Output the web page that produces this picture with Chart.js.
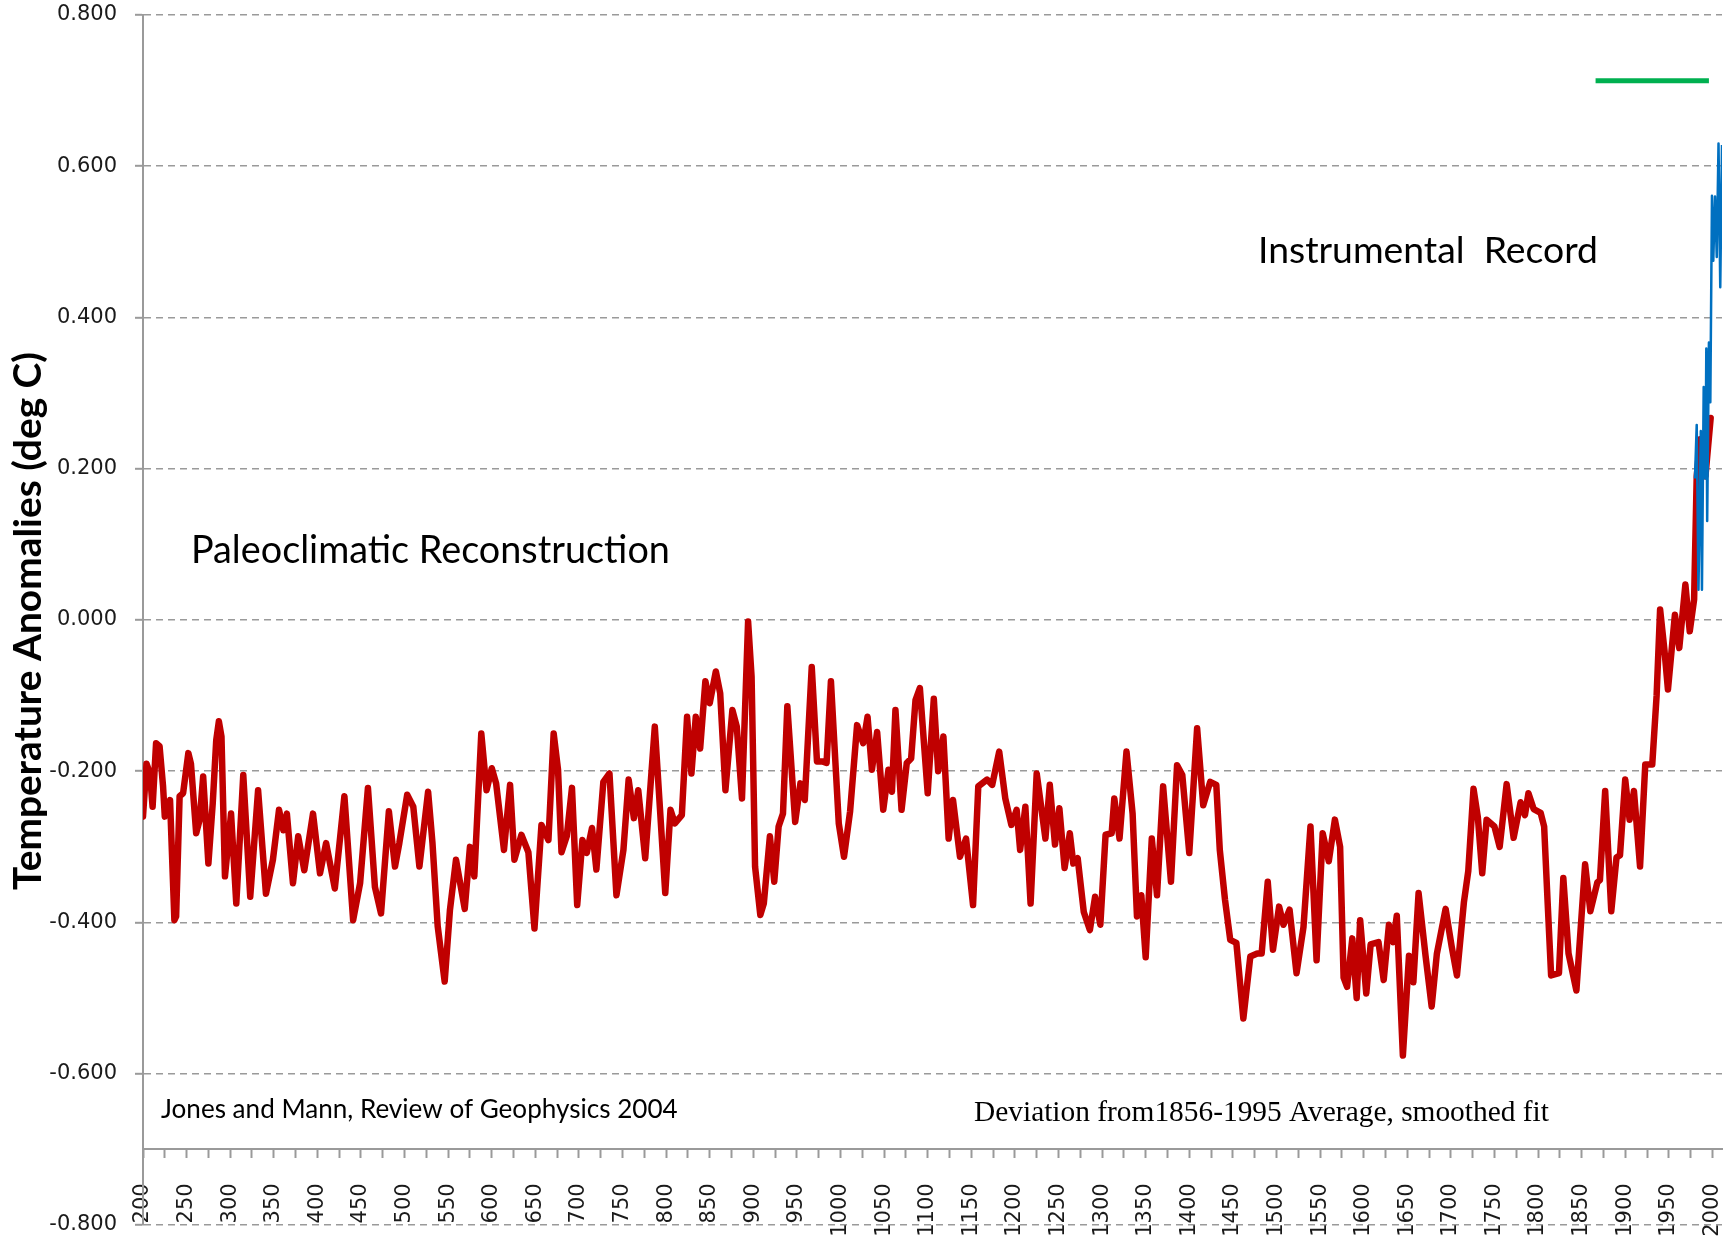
<!DOCTYPE html>
<html>
<head>
<meta charset="utf-8">
<script src="https://cdn.jsdelivr.net/npm/chart.js@4.4.1/dist/chart.umd.min.js"></script>
<style>
  html, body { margin: 0; padding: 0; background: #ffffff; }
  #wrap { width: 1734px; height: 1237px; }
</style>
</head>
<body>
<div id="wrap"><canvas id="c" width="1734" height="1237"></canvas></div>
<script>
// ---------------- DATA ----------------
const redYears = [200,204,208,211,215,219,223,225,231,236,238,242,246,252,255,261,265,269,275,280,284,287,290,294,301,307,315,323,332,341,349,356,361,365,372,378,385,395,403,410,420,431,441,449,458,466,473,482,489,494,503,510,517,527,532,538,546,552,559,569,575,580,588,594,600,605,614,621,626,634,642,649,657,665,671,676,680,686,692,698,704,709,715,720,728,735,743,751,757,763,768,776,787,799,805,810,818,824,829,834,839,845,850,857,862,868,876,881,887,894,898,902,908,912,919,924,929,934,939,948,954,959,967,973,979,984,989,998,1004,1011,1019,1026,1031,1036,1042,1049,1055,1059,1063,1070,1076,1081,1086,1091,1100,1107,1112,1118,1124,1129,1137,1144,1152,1158,1168,1174,1182,1189,1196,1202,1206,1212,1218,1225,1235,1240,1246,1251,1257,1263,1267,1272,1279,1286,1292,1298,1304,1311,1314,1320,1328,1335,1340,1345,1350,1357,1363,1370,1379,1386,1392,1400,1409,1416,1424,1431,1435,1441,1447,1454,1462,1470,1478,1483,1490,1496,1503,1508,1515,1523,1531,1539,1546,1553,1560,1567,1573,1577,1581,1587,1592,1596,1603,1608,1617,1623,1629,1634,1638,1645,1652,1657,1663,1671,1678,1684,1694,1701,1707,1715,1720,1726,1731,1736,1741,1750,1756,1764,1772,1780,1785,1789,1795,1803,1807,1811,1815,1824,1829,1835,1844,1854,1860,1868,1871,1877,1884,1890,1894,1900,1905,1910,1917,1923,1931,1936,1940,1945,1949,1957,1962,1969,1974,1979,1982,1986,1992,1998];
const redValues = [-0.26,-0.19,-0.203,-0.247,-0.163,-0.167,-0.22,-0.26,-0.238,-0.397,-0.392,-0.233,-0.229,-0.176,-0.19,-0.282,-0.264,-0.207,-0.322,-0.242,-0.159,-0.134,-0.154,-0.339,-0.256,-0.375,-0.205,-0.366,-0.225,-0.362,-0.317,-0.251,-0.278,-0.256,-0.348,-0.286,-0.331,-0.256,-0.335,-0.295,-0.355,-0.233,-0.397,-0.348,-0.222,-0.353,-0.388,-0.253,-0.326,-0.295,-0.231,-0.247,-0.326,-0.227,-0.295,-0.405,-0.478,-0.384,-0.317,-0.382,-0.3,-0.339,-0.15,-0.225,-0.196,-0.216,-0.304,-0.218,-0.317,-0.284,-0.307,-0.408,-0.271,-0.291,-0.15,-0.198,-0.307,-0.286,-0.222,-0.377,-0.291,-0.308,-0.275,-0.33,-0.214,-0.203,-0.364,-0.304,-0.211,-0.262,-0.225,-0.315,-0.141,-0.361,-0.251,-0.269,-0.258,-0.128,-0.203,-0.128,-0.17,-0.081,-0.11,-0.068,-0.097,-0.225,-0.119,-0.141,-0.236,-0.002,-0.075,-0.326,-0.39,-0.375,-0.286,-0.346,-0.273,-0.256,-0.114,-0.267,-0.216,-0.238,-0.062,-0.187,-0.187,-0.189,-0.081,-0.269,-0.313,-0.253,-0.139,-0.163,-0.128,-0.198,-0.148,-0.251,-0.198,-0.227,-0.119,-0.251,-0.189,-0.183,-0.106,-0.09,-0.229,-0.104,-0.2,-0.154,-0.289,-0.238,-0.313,-0.289,-0.377,-0.22,-0.211,-0.218,-0.174,-0.236,-0.271,-0.251,-0.304,-0.247,-0.375,-0.203,-0.289,-0.218,-0.297,-0.249,-0.328,-0.282,-0.322,-0.315,-0.386,-0.41,-0.366,-0.403,-0.284,-0.282,-0.236,-0.289,-0.174,-0.256,-0.392,-0.364,-0.446,-0.289,-0.364,-0.22,-0.346,-0.192,-0.205,-0.308,-0.143,-0.245,-0.214,-0.218,-0.304,-0.37,-0.423,-0.427,-0.527,-0.445,-0.441,-0.441,-0.346,-0.436,-0.379,-0.403,-0.383,-0.467,-0.406,-0.273,-0.45,-0.282,-0.319,-0.264,-0.3,-0.473,-0.485,-0.421,-0.5,-0.397,-0.494,-0.429,-0.426,-0.476,-0.403,-0.426,-0.391,-0.576,-0.444,-0.479,-0.361,-0.444,-0.511,-0.441,-0.382,-0.432,-0.47,-0.373,-0.332,-0.223,-0.261,-0.335,-0.264,-0.273,-0.3,-0.217,-0.288,-0.241,-0.258,-0.229,-0.25,-0.255,-0.273,-0.373,-0.47,-0.467,-0.341,-0.441,-0.49,-0.323,-0.385,-0.347,-0.344,-0.226,-0.385,-0.314,-0.311,-0.211,-0.264,-0.226,-0.326,-0.191,-0.191,-0.1,0.014,-0.04,-0.092,0.007,-0.037,0.047,-0.015,0.027,0.19,0.239,0.19,0.267];

const blueYears = [1980,1982,1984,1986.7,1988,1990,1992,1993,1994,1996,1997.6,1999.5,2001,2003,2005,2007,2009,2011];
const blueValues = [0.187,0.258,0.04,0.25,0.04,0.308,0.187,0.359,0.131,0.367,0.288,0.561,0.475,0.56,0.48,0.63,0.44,0.628];

const greenYears = [1866, 1996];
const greenValues = [0.713, 0.713];

const yTickValues = [-0.8,-0.6,-0.4,-0.2,0,0.2,0.4,0.6,0.8];
const xLabelStep = 50;

const yTitle = 'Temperature Anomalies (deg C)';
const noteLeft1 = 'Paleoclimatic Reconstruction';
const noteRight1 = 'Instrumental  Record';
const noteSource = 'Jones and Mann, Review of Geophysics 2004';
const noteDeviation = 'Deviation from1856-1995 Average, smoothed fit';

// ---------------- BUILD ----------------
const pts = (xs, ys) => xs.map((x, i) => ({x: x, y: ys[i]}));
const GRID = '#9a9a9a';
const TXT = '#1a1a1a';

const textPlugin = {
  id: 'texts',
  afterDraw(chart) {
    const ctx = chart.ctx;
    const fitFont = (txt, family, weight, width) => {
      ctx.font = weight + ' 100px ' + family;
      return 100 * width / ctx.measureText(txt).width;
    };
    const put = (txt, family, weight, left, cy, width, rot) => {
      const size = fitFont(txt, family, weight, width);
      ctx.save();
      ctx.font = weight + ' ' + size.toFixed(2) + 'px ' + family;
      ctx.fillStyle = '#000';
      ctx.textBaseline = 'middle';
      if (rot) {
        ctx.translate(left, cy);
        ctx.rotate(-Math.PI / 2);
        ctx.textAlign = 'center';
        ctx.fillText(txt, 0, 0);
      } else {
        ctx.textAlign = 'left';
        ctx.fillText(txt, left, cy);
      }
      ctx.restore();
    };
    put(noteLeft1, 'Lato', 'normal', 191, 551, 479);
    put(noteRight1, 'Lato', 'normal', 1258, 251, 340);
    put(noteSource, 'Lato', 'normal', 161, 1110, 517);
    put(noteDeviation, '"Liberation Serif"', 'normal', 974, 1113, 575);
    put(yTitle, 'Lato', 'bold', 28, 621, 538, true);
  }
};

const zeroPad = s => { s.paddingLeft = 0; s.paddingRight = 0; s.paddingTop = 0; s.paddingBottom = 0; };

new Chart(document.getElementById('c'), {
  type: 'line',
  data: {
    datasets: [
      { label: 'Instrumental', data: pts(blueYears, blueValues), borderColor: '#0070c0', borderWidth: 2.5, pointRadius: 0, tension: 0, borderJoinStyle: 'round' },
      { label: 'Reconstruction', data: pts(redYears, redValues), borderColor: '#c00000', borderWidth: 6.5, pointRadius: 0, tension: 0, borderJoinStyle: 'round', borderCapStyle: 'round' },
      { label: 'Level', data: pts(greenYears, greenValues), borderColor: '#00b050', borderWidth: 5, pointRadius: 0, tension: 0 }
    ]
  },
  options: {
    responsive: false,
    animation: false,
    devicePixelRatio: 1,
    layout: { autoPadding: false, padding: { left: 0, right: 12, top: 15, bottom: 12 } },
    plugins: { legend: { display: false }, tooltip: { enabled: false } },
    scales: {
      x: {
        type: 'linear',
        min: 200, max: 2011,
        position: { y: -0.7 },
        afterFit: zeroPad,
        ticks: {
          stepSize: 25, includeBounds: false, autoSkip: false,
          minRotation: 90, maxRotation: 90, padding: 26,
          color: TXT, font: { family: '"DejaVu Sans"', size: 21 },
          callback: v => (v % xLabelStep === 0 ? String(v) : '')
        },
        grid: { drawOnChartArea: false, drawTicks: true, tickLength: 8, tickColor: GRID, tickWidth: 2 },
        border: { display: true, color: GRID, width: 2 }
      },
      y: {
        type: 'linear',
        min: -0.8, max: 0.8,
        afterBuildTicks: s => { s.ticks = yTickValues.map(v => ({ value: v })); },
        afterFit: s => { s.width = 143; zeroPad(s); },
        ticks: {
          padding: 18, color: TXT, font: { family: '"DejaVu Sans"', size: 21 },
          callback: v => Number(v).toFixed(3)
        },
        grid: { color: GRID, lineWidth: 1.6, drawTicks: true, tickLength: 8, tickColor: GRID, tickWidth: 2 },
        border: { display: true, color: GRID, width: 2, dash: [7, 5] }
      }
    }
  },
  plugins: [textPlugin]
});
</script>
</body>
</html>
